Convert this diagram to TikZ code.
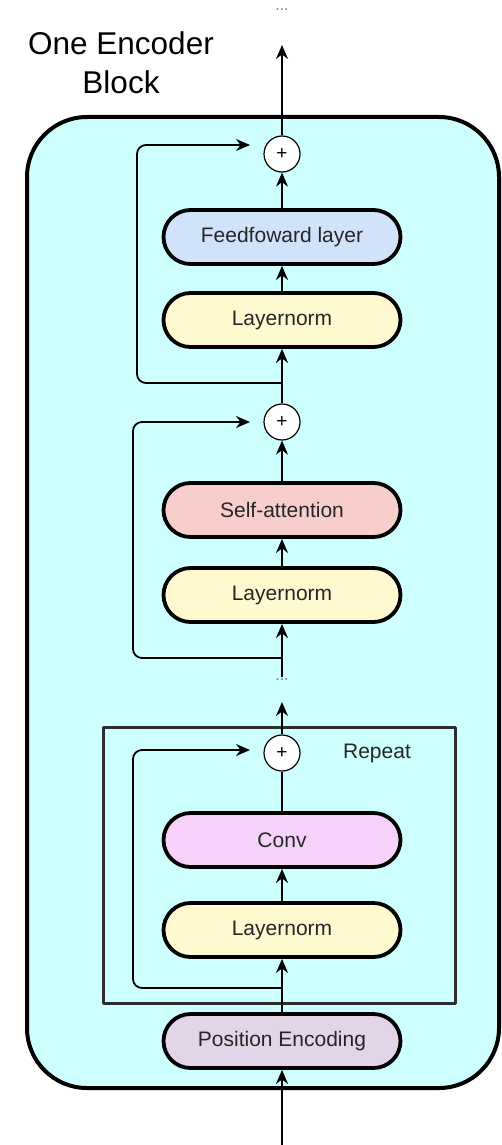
\documentclass[tikz,border=0pt]{standalone}
\usepackage{fontspec}
\setmainfont{Liberation Sans}
\usetikzlibrary{arrows.meta,positioning}
\definecolor{fg}{RGB}{0,0,0}
\definecolor{txt}{RGB}{38,38,38}
\definecolor{mu}{RGB}{120,120,120}
\definecolor{frame}{RGB}{45,45,45}
\definecolor{blockbg}{RGB}{206,255,255}
\definecolor{ffblue}{RGB}{208,227,250}
\definecolor{lnyel}{RGB}{255,249,208}
\definecolor{sared}{RGB}{248,206,204}
\definecolor{convpink}{RGB}{246,210,250}
\definecolor{peviolet}{RGB}{225,213,231}
\tikzset{
  every picture/.style={fg, line width=1.8pt, line join=round,
    >={Stealth[length=14pt,width=12pt,inset=4.5pt]}},
  every node/.style={font=\fontsize{21}{25}\selectfont, text=txt},
  % Bloecke
  blk/.style={rectangle, rounded corners=27pt, draw=fg, line width=3.8pt, fill=#1,
    minimum width=237pt, minimum height=54pt, inner sep=0pt},
  blk/.default=white,
  addnode/.style={circle, draw=fg, line width=1.2pt, fill=white, minimum size=36pt,
    inner sep=0pt, font=\fontsize{19}{19}\selectfont, text=fg},
  ellip/.style={text=mu, inner sep=0pt, font=\fontsize{16}{16}\selectfont},
  % Linien
  flow/.style={->},
  res/.style={->, rounded corners=9pt},
  outer/.style={draw=fg, fill=blockbg, line width=4pt, rounded corners=60pt},
  repbox/.style={draw=frame, line width=3pt},
}
\begin{document}
\begin{tikzpicture}[x=1pt, y=-1pt]
  \useasboundingbox (0,0) rectangle (502,1145);
  % Encoder-Block
  \draw[outer] (27,117) rectangle (499,1088);
  \node[anchor=north, align=center, inner sep=0pt, text=fg,
    font=\fontsize{31.5}{39}\selectfont] (title) at (121,31) {One Encoder\\Block};
  % Repeat-Rahmen
  \draw[repbox] (103,727) rectangle (455,1003);
  \node (rep) at (377,753) {Repeat};
  % Schichten
  \node[addnode] (add1) at (282,154) {+};
  \node[blk=ffblue] (ff) at (282,237) {Feedfoward layer};
  \node[blk=lnyel] (ln1) at (282,320) {Layernorm};
  \node[addnode] (add2) at (282,422) {+};
  \node[blk=sared] (sa) at (282,510) {Self-attention};
  \node[blk=lnyel] (ln2) at (282,595) {Layernorm};
  \node[addnode] (add3) at (282,753) {+};
  \node[blk=convpink] (conv) at (282,840) {Conv};
  \node[blk=lnyel] (ln3) at (282,930) {Layernorm};
  \node[blk=peviolet] (pe) at (282,1041) {Position Encoding};
  % Auslassungen
  \node[ellip] (topdots) at (282,10) {...};
  \node[ellip] (middots) at (282,680) {...};
  % Hilfspunkte
  \coordinate (in) at (282,1145);
  \coordinate (out) at (282,45);
  \coordinate (up3) at (282,702);
  \coordinate (from2) at (282,677);
  \coordinate (b1) at (282,383);
  \coordinate (b2) at (282,658);
  \coordinate (b3) at (282,988);
  \coordinate (tip1) at (250,145);
  \coordinate (tip2) at (250,422);
  \coordinate (tip3) at (250,750);
  % Hauptpfad
  \draw[flow] (in) -- (pe);
  \draw[flow] (pe) -- (ln3);
  \draw[flow] (ln3) -- (conv);
  \draw (conv) -- (add3);
  \draw[flow] (add3) -- (up3);
  \draw[flow] (from2) -- (ln2);
  \draw[flow] (ln2) -- (sa);
  \draw[flow] (sa) -- (add2);
  \draw[flow] (add2) -- (ln1);
  \draw[flow] (ln1) -- (ff);
  \draw[flow] (ff) -- (add1);
  \draw[flow] (add1) -- (out);
  % Residualverbindungen
  \draw[res] (b1) -- (137,383) -- (137,145) -- (tip1);
  \draw[res] (b2) -- (133,658) -- (133,422) -- (tip2);
  \draw[res] (b3) -- (133,988) -- (133,750) -- (tip3);
\end{tikzpicture}
\end{document}
